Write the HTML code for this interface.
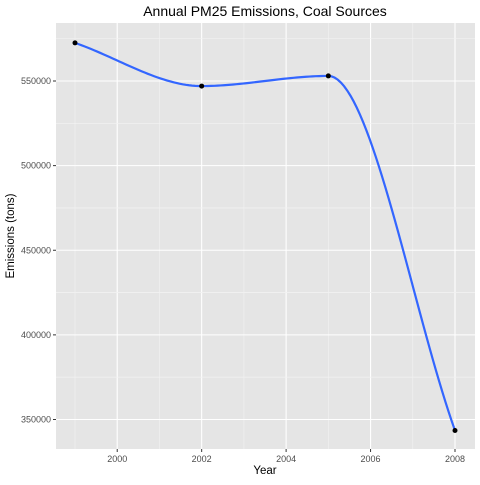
<!DOCTYPE html>
<html><head><meta charset="utf-8"><style>
body{margin:0;background:#fff;font-family:"Liberation Sans",sans-serif}
</style></head><body>
<svg id="c" width="480" height="480" xmlns="http://www.w3.org/2000/svg">
<rect x="0" y="0" width="480" height="480" fill="#fff"/>
<rect x="56" y="23" width="419" height="426" fill="#e5e5e5"/>
<g id="grid"></g>
<g id="axes"></g>
<path id="line" fill="none" stroke="#3366ff" stroke-width="2.2"/>
<g id="pts"></g>
<text x="265" y="16" text-anchor="middle" font-size="14" fill="#000">Annual PM25 Emissions, Coal Sources</text>
<text x="265" y="474" text-anchor="middle" font-size="11.5" fill="#000">Year</text>
<text transform="translate(14,236) rotate(-90)" text-anchor="middle" font-size="11.5" fill="#000">Emissions (tons)</text>
</svg>
<script>
const years=[1999,2002,2005,2008];
const emissions=[572500,547000,553000,343500];
const xTicks=[2000,2002,2004,2006,2008];
const yTicks=[350000,400000,450000,500000,550000];
const NS="http://www.w3.org/2000/svg";
const L=56,R=475,T=23,B=449;
const sx=v=>75+(v-1999)*(455-75)/9;
const sy=v=>81+(550000-v)*(419.5-81)/200000;
function mk(tag,attrs,parent){const e=document.createElementNS(NS,tag);for(const k in attrs)e.setAttribute(k,attrs[k]);parent.appendChild(e);return e;}
const grid=document.getElementById('grid'),axes=document.getElementById('axes');
for(let i=0;i<xTicks.length;i++){
  const x=sx(xTicks[i]);
  const g=mk('line',{x1:x,x2:x,y1:T,y2:B,stroke:'#fff','stroke-width':1.1},grid);
  
  
  const m=sx(xTicks[i]-1);
  if(m>L){const gm=mk('line',{x1:m,x2:m,y1:T,y2:B,stroke:'#f2f2f2','stroke-width':0.6},grid);
  
  }
  mk('line',{x1:x,x2:x,y1:B,y2:B+3,stroke:'#333'},axes);
  const t=mk('text',{x:x,y:B+13,'text-anchor':'middle','font-size':'9','fill':'#4d4d4d'},axes);
  t.textContent=xTicks[i];
  
  
}
{const m=sx(2009); if(m<R){mk('line',{x1:m,x2:m,y1:T,y2:B,stroke:'#f2f2f2','stroke-width':0.6},grid);}}
for(let i=0;i<yTicks.length;i++){
  const y=sy(yTicks[i]);
  const g=mk('line',{x1:L,x2:R,y1:y,y2:y,stroke:'#fff','stroke-width':1.1},grid);
  
  
  [yTicks[i]-25000,yTicks[i]+25000].forEach(v=>{const ym=sy(v);if(ym>T&&ym<B){mk('line',{x1:L,x2:R,y1:ym,y2:ym,stroke:'#f2f2f2','stroke-width':0.6},grid);}});
  mk('line',{x1:L-3,x2:L,y1:y,y2:y,stroke:'#333'},axes);
  const t=mk('text',{x:L-5,y:y+3,'text-anchor':'end','font-size':'9','fill':'#4d4d4d'},axes);
  t.textContent=yTicks[i];
  
  
}
// monotone cubic (Fritsch-Carlson)
const n=years.length,dl=[],m=[];
for(let i=0;i<n-1;i++)dl.push((emissions[i+1]-emissions[i])/(years[i+1]-years[i]));
m[0]=dl[0];m[n-1]=dl[n-2];
for(let i=1;i<n-1;i++){m[i]=(dl[i-1]*dl[i]<=0)?0:2/(1/dl[i-1]+1/dl[i]);}
let p='';
for(let j=0;j<n-1;j++){const hh=years[j+1]-years[j];
  for(let k=0;k<=40;k++){const t=k/40,t2=t*t,t3=t2*t;
    const v=(2*t3-3*t2+1)*emissions[j]+(t3-2*t2+t)*hh*m[j]+(-2*t3+3*t2)*emissions[j+1]+(t3-t2)*hh*m[j+1];
    p+=(p?'L':'M')+sx(years[j]+t*hh).toFixed(2)+','+sy(v).toFixed(2);}}
document.getElementById('line').setAttribute('d',p);
const pts=document.getElementById('pts');
for(let i=0;i<n;i++){
  const ci=mk('circle',{cx:sx(years[i]),cy:sy(emissions[i]),r:2.5,fill:'#000'},pts);
  
  
}
</script>
</body></html>
